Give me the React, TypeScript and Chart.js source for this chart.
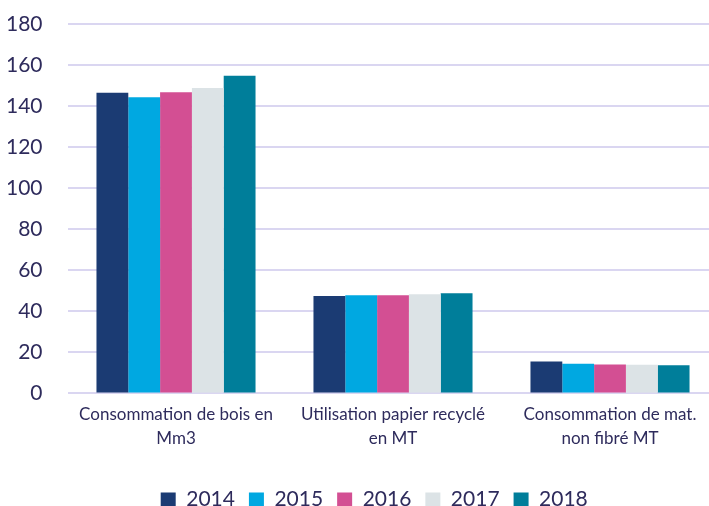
import React, { useEffect, useRef } from "react";
import { Chart, registerables } from "chart.js";

Chart.register(...registerables);

const categories: string[][] = [
  ["Consommation de bois en", "Mm3"],
  ["Utilisation papier recyclé", "en MT"],
  ["Consommation de mat.", "non fibré MT"],
];
const years = ["2014", "2015", "2016", "2017", "2018"];
const values2014 = [146.5, 47.5, 15.6];
const values2015 = [144.3, 47.8, 14.5];
const values2016 = [146.8, 47.8, 14.1];
const values2017 = [148.8, 48.3, 14.0];
const values2018 = [154.8, 48.8, 13.7];
const colors = ["#1B3B73", "#00A8E1", "#D34F93", "#DCE3E6", "#007E9A"];
const yTicks = [0, 20, 40, 60, 80, 100, 120, 140, 160, 180];

const FONT = "Lato, 'Open Sans', sans-serif";
const TEXT = "#2E2B5C";

const legendShift = {
  id: "legendShift",
  afterLayout(chart: any) {
    if (chart.legend) {
      chart.legend.left += 11;
      chart.legend.right += 11;
    }
  },
};

export default function App() {
  const ref = useRef<HTMLCanvasElement>(null);
  useEffect(() => {
    if (!ref.current) return;
    const series = [values2014, values2015, values2016, values2017, values2018];
    const chart = new Chart(ref.current, {
      type: "bar",
      data: {
        labels: categories,
        datasets: years.map((y, i) => ({
          label: y,
          data: series[i],
          backgroundColor: colors[i],
          borderWidth: 0,
          barPercentage: 1,
          categoryPercentage: 0.733,
        })),
      },
      options: {
        animation: false,
        responsive: false,
        devicePixelRatio: 1,
        layout: { padding: { left: 8, top: 24, right: 1.5, bottom: 0 } },
        plugins: {
          tooltip: { enabled: false },
          legend: {
            position: "bottom",
            labels: {
              color: TEXT,
              font: { family: FONT, size: 21 },
              boxWidth: 15,
              boxHeight: 14,
              padding: 14,
            },
          },
        },
        scales: {
          x: {
            grid: { display: false, drawTicks: false },
            border: { display: false },
            afterFit: (s: any) => {
              s.paddingLeft = 0;
              s.paddingRight = 0;
              s.height = s.height + 16;
            },
            ticks: {
              color: TEXT,
              font: { family: FONT, size: 17, lineHeight: 1.4 },
              padding: 9,
              maxRotation: 0,
              autoSkip: false,
            },
          },
          y: {
            min: 0,
            max: 180,
            afterBuildTicks: (axis: any) => {
              axis.ticks = yTicks.map((v) => ({ value: v }));
            },
            afterFit: (s: any) => {
              s.width = 59.5;
              s.paddingTop = 0;
            },
            grid: { color: "#DAD6F1", lineWidth: 2, drawTicks: false },
            border: { display: false },
            ticks: {
              color: TEXT,
              font: { family: FONT, size: 21 },
              padding: 25,
            },
          },
        },
      },
      plugins: [legendShift],
    });
    return () => chart.destroy();
  }, []);
  return (
    <div
      style={{
        position: "fixed",
        left: 0,
        top: 0,
        width: 709,
        height: 506,
        overflow: "hidden",
        background: "#fff",
      }}
    >
      <canvas ref={ref} width={720} height={520} style={{ display: "block" }} />
    </div>
  );
}
